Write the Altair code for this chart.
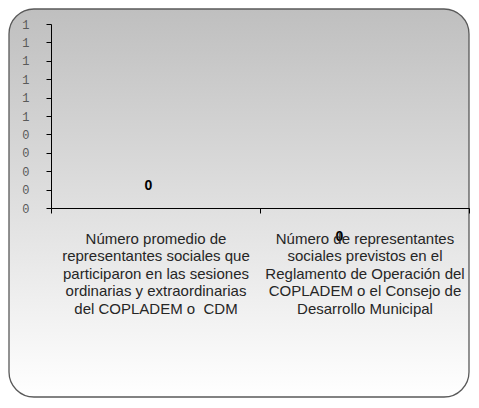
import altair as alt
import pandas as pd

categories = [
    "Número promedio de|representantes sociales que|participaron en las sesiones|ordinarias y extraordinarias|del COPLADEM o \u00a0CDM",
    "Número de representantes|sociales previstos en el|Reglamento de Operación del|COPLADEM o el Consejo de|Desarrollo Municipal",
]
values = [0, 0]
y_ticks = [0, 0.1, 0.2, 0.3, 0.4, 0.5, 0.6, 0.7, 0.8, 0.9, 1.0]

df = pd.DataFrame({"cat": categories, "val": values})
frame_df = pd.DataFrame({"k": [0]})

W, H = 418, 184

grad = alt.Gradient(
    gradient="linear",
    stops=[alt.GradientStop(color="#bfbfbf", offset=0),
           alt.GradientStop(color="#ffffff", offset=1)],
    x1=0, x2=0, y1=0, y2=1,
)

frame = alt.Chart(frame_df).mark_rect(
    fill=grad, stroke="#595959", strokeWidth=1.3, cornerRadius=25
).encode(
    x=alt.value(-42), x2=alt.value(418), y=alt.value(-15), y2=alt.value(373)
)

xenc = alt.X(
    "cat:N", sort=categories, title=None,
    scale=alt.Scale(paddingInner=0, paddingOuter=0),
    axis=alt.Axis(
        labelExpr="split(datum.label, '|')", labelAngle=0, labelAlign="center",
        labelLimit=0, labelFont="Liberation Sans", labelFontSize=15,
        labelLineHeight=17.5, labelColor="#262626", labelPadding=18,
        tickBand="extent", tickColor="#000000", domainColor="#000000",
        tickSize=5, grid=False, zindex=1,
    ),
)
yenc = alt.Y(
    "val:Q", title=None,
    scale=alt.Scale(domain=[0, 1], nice=False),
    axis=alt.Axis(
        values=y_ticks, tickCount=len(y_ticks), labelExpr="'' + round(datum.value)",
        labelFont="Liberation Mono", labelFontSize=12, labelOverlap=False,
        labelColor="#595959", labelPadding=17, tickColor="#000000",
        domainColor="#000000", tickSize=5, grid=False, zindex=1,
    ),
)

bars = alt.Chart(df).mark_bar(color="#4f81bd").encode(x=xenc, y=yenc)

lab1 = alt.Chart(df).transform_filter(
    alt.datum.cat == categories[0]
).mark_text(font="Liberation Sans", fontWeight="bold", fontSize=14, color="#000000",
            dx=-7, dy=-22).encode(
    x=alt.X("cat:N", sort=categories), y="val:Q", text=alt.Text("val:Q", format="d")
)
lab2 = alt.Chart(df).transform_filter(
    alt.datum.cat == categories[1]
).mark_text(font="Liberation Sans", fontWeight="bold", fontSize=14, color="#000000",
            dx=-25, dy=29).encode(
    x=alt.X("cat:N", sort=categories), y="val:Q", text=alt.Text("val:Q", format="d")
)

chart = alt.layer(frame, bars, lab1, lab2).properties(
    width=W, height=H,
    autosize=alt.AutoSizeParams(type="none"),
    padding={"left": 43, "top": 16, "right": 2, "bottom": 190},
    background="white",
).configure_view(stroke=None)

chart.save("out.html", embed_options={"renderer": "svg", "actions": False})
